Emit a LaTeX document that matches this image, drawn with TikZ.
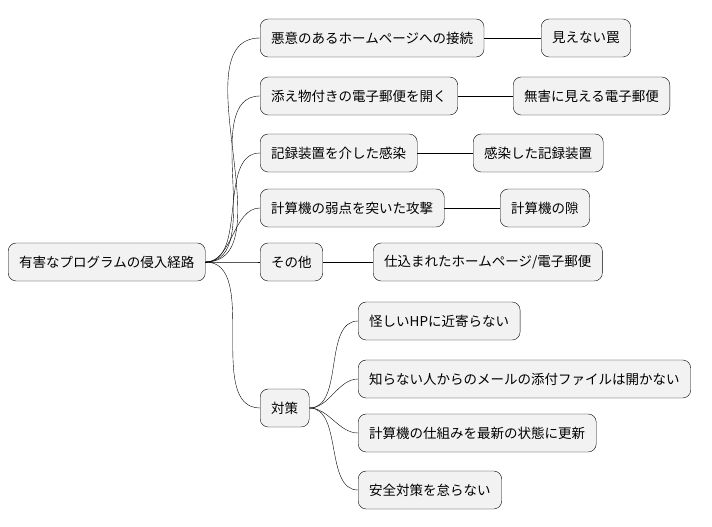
\documentclass[tikz,border=0pt]{standalone}
\usepackage{fontspec}
\setmainfont{Noto Sans CJK JP}
\usetikzlibrary{positioning}

\begin{document}
\begin{tikzpicture}[x=1pt, y=-1pt,
    every node/.style = {draw, fill=black!5, rounded corners=8pt, anchor=west,
        minimum height=38pt, inner xsep=11pt, font=\fontsize{13.5}{16}\selectfont},
    branch/.style = {draw, out=0, in=180, looseness=0.9}
]
    \useasboundingbox (0,0) rectangle (712,527);
    \node (root) at (8,262) {有害なプログラムの侵入経路};

    \node (site) at (260,38) {悪意のあるホームページへの接続};
    \node (mail) at (260,96) {添え物付きの電子郵便を開く};
    \node (media) at (260,153) {記録装置を介した感染};
    \node (weak) at (260,208) {計算機の弱点を突いた攻撃};
    \node (other) at (260,262) {その他};
    \node (guard) at (260,408) {対策};

    \node (trap) at (541,38) {見えない罠};
    \node (fake) at (513,96) {無害に見える電子郵便};
    \node (usb) at (473,153) {感染した記録装置};
    \node (gap) at (500,208) {計算機の隙};
    \node (hidden) at (373,262) {仕込まれたホームページ/電子郵便};

    \node (avoid) at (358,321) {怪しいHPに近寄らない};
    \node (nofile) at (358,379) {知らない人からのメールの添付ファイルは開かない};
    \node (update) at (358,433) {計算機の仕組みを最新の状態に更新};
    \node (care) at (358,490) {安全対策を怠らない};

    % first level
    \foreach \n in {site, mail, media, weak, other, guard}
        \draw (root.east) to[branch] (\n.west);

    % second level
    \draw (site) -- (trap)
        (mail) -- (fake)
        (media) -- (usb)
        (weak) -- (gap)
        (other) -- (hidden);
    \foreach \n in {avoid, nofile, update, care}
        \draw (guard.east) to[branch] (\n.west);
\end{tikzpicture}
\end{document}
